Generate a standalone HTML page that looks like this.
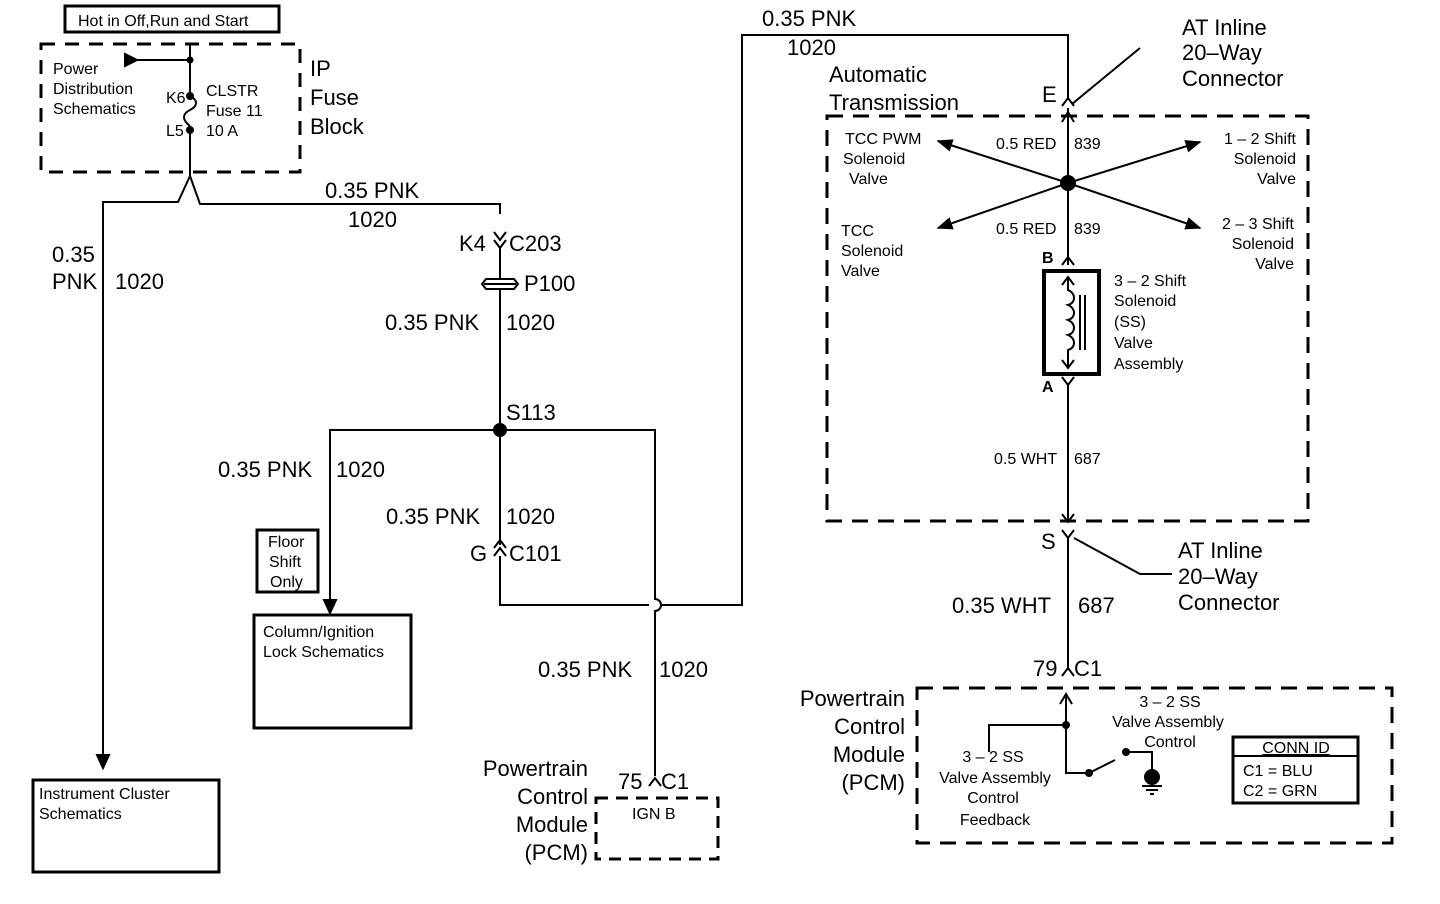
<!DOCTYPE html>
<html><head><meta charset="utf-8"><style>
html,body{margin:0;padding:0;background:#fff;}
svg{display:block;}
text{font-family:"Liberation Sans",Arial,sans-serif;fill:#000;}
.s{font-size:16px;}
.m{font-size:22px;}
.l{font-size:22px;}
</style></head><body>
<svg width="1440" height="904" viewBox="0 0 1440 904" xmlns="http://www.w3.org/2000/svg">
<defs>
<marker id="ar" viewBox="0 0 10 10" refX="9" refY="5" markerWidth="8" markerHeight="8" orient="auto"><path d="M0,1 L10,5 L0,9 Z" fill="#000"/></marker>
</defs>
<g stroke="#000" fill="none" stroke-width="2">
<rect x="65" y="6" width="214" height="26" stroke-width="3"/>
<rect x="41" y="44" width="259" height="128" stroke-width="3" stroke-dasharray="14,10"/>
<path d="M135,60 H190"/>
<path d="M125,54 L137,60 L125,66 Z" fill="#000"/>
<path d="M190,44 V96 M190,128 V172"/>
<path d="M190,96 c8,4 8,10 0,14 c-8,4 -8,10 0,16"/>
<circle cx="190" cy="60" r="2.5" fill="#000"/><circle cx="190" cy="96" r="3" fill="#000"/><circle cx="190" cy="130" r="3" fill="#000"/>
<path d="M190,172 V176 L178,202 H103 V762"/>
<path d="M190,176 L200,204 H500 V214"/>
<path d="M97,755 L103,768 L109,755 Z" fill="#000"/>
<path d="M494,232 L500,240 L506,232 M494,240 L500,248 L506,240"/>
<path d="M500,248 V278 M500,290 V545"/>
<path d="M484,284 H516 M486,279 H514 L518,284 L514,289 H486 L482,284 Z"/>
<circle cx="500" cy="430" r="6" fill="#000"/>
<path d="M500,430 H330 V606"/>
<path d="M324,600 L330,613 L336,600 Z" fill="#000"/>
<path d="M500,430 H655 V599 A6,6 0 0 1 655,611 V776"/>
<path d="M649,786 L655,778 L661,786"/>
<path d="M494,556 L500,548 L506,556 M494,548 L500,540 L506,548"/>
<path d="M500,556 V605 H649 M661,605 H742 V35 H1068 V98"/>
<path d="M1062,106 L1068,98 L1074,106"/>
<rect x="257" y="530" width="61" height="62" stroke-width="3"/>
<rect x="254" y="615" width="157" height="113" stroke-width="3"/>
<rect x="33" y="780" width="186" height="92" stroke-width="3"/>
<rect x="596" y="798" width="122" height="61" stroke-width="3" stroke-dasharray="12,8"/>
<rect x="827" y="116" width="481" height="405" stroke-width="3" stroke-dasharray="16,10"/>
<path d="M1068,108 V265"/>
<path d="M1062,122 L1068,112 L1074,122"/>
<circle cx="1068" cy="183" r="7" fill="#000"/>
<path d="M1068,183 L938,141" marker-end="url(#ar)"/>
<path d="M1068,183 L1200,142" marker-end="url(#ar)"/>
<path d="M1068,183 L938,228" marker-end="url(#ar)"/>
<path d="M1068,183 L1200,228" marker-end="url(#ar)"/>
<path d="M1062,265 L1068,257 L1074,265"/>
<rect x="1044" y="271" width="55" height="103" stroke-width="4"/>
<path d="M1068,277 V290 c8,3 8,13 0,15 c8,3 8,13 0,15 c8,3 8,13 0,15 c8,3 8,13 0,15 V368"/>
<path d="M1062,285 L1068,277 L1074,285 M1062,360 L1068,368 L1074,360"/>
<path d="M1080,295 V350 M1085,295 V350"/>
<path d="M1062,377 L1068,385 L1074,377 M1068,385 V520"/>
<path d="M1062,514 L1068,522 L1074,514"/>
<path d="M1062,530 L1068,538 L1074,530 M1068,538 V670"/>
<path d="M1062,676 L1068,668 L1074,676"/>
<path d="M1072,104 L1140,48 M1074,538 L1140,574 H1172"/>
<rect x="917" y="688" width="475" height="155" stroke-width="3" stroke-dasharray="16,10"/>
<path d="M1066,695 V773 H1089 L1115,760 M1066,725 H989 V752"/>
<path d="M1060,704 L1066,694 L1072,704"/>
<circle cx="1066" cy="725" r="3" fill="#000"/><circle cx="1089" cy="773" r="3" fill="#000"/><circle cx="1126" cy="752" r="3" fill="#000"/>
<path d="M1126,752 H1152 V770"/>
<circle cx="1152" cy="777" r="7" fill="#000"/>
<path d="M1142,786 H1162 M1146,790 H1158 M1150,794 H1154"/>
<rect x="1233" y="737" width="125" height="66" stroke-width="3"/>
<path d="M1233,756 H1358"/>
</g>
<text x="78" y="26" class="s">Hot in Off,Run and Start</text>
<text x="53" y="74" class="s">Power</text><text x="53" y="94" class="s">Distribution</text><text x="53" y="114" class="s">Schematics</text>
<text x="166" y="103" class="s">K6</text><text x="166" y="136" class="s">L5</text>
<text x="206" y="96" class="s">CLSTR</text><text x="206" y="116" class="s">Fuse 11</text><text x="206" y="136" class="s">10 A</text>
<text x="310" y="76" class="l">IP</text><text x="310" y="105" class="l">Fuse</text><text x="310" y="134" class="l">Block</text>
<text x="325" y="198" class="m">0.35 PNK</text><text x="348" y="227" class="m">1020</text>
<text x="52" y="262" class="m">0.35</text><text x="52" y="289" class="m">PNK</text><text x="115" y="289" class="m">1020</text>
<text x="459" y="251" class="m">K4</text><text x="509" y="251" class="m">C203</text>
<text x="524" y="291" class="m">P100</text>
<text x="385" y="330" class="m">0.35 PNK</text><text x="506" y="330" class="m">1020</text>
<text x="506" y="420" class="m">S113</text>
<text x="218" y="477" class="m">0.35 PNK</text><text x="336" y="477" class="m">1020</text>
<text x="386" y="524" class="m">0.35 PNK</text><text x="506" y="524" class="m">1020</text>
<text x="470" y="561" class="m">G</text><text x="509" y="561" class="m">C101</text>
<text x="268" y="547" class="s">Floor</text><text x="269" y="567" class="s">Shift</text><text x="270" y="587" class="s">Only</text>
<text x="263" y="637" class="s">Column/Ignition</text><text x="263" y="657" class="s">Lock Schematics</text>
<text x="39" y="799" class="s">Instrument Cluster</text><text x="39" y="819" class="s">Schematics</text>
<text x="538" y="677" class="m">0.35 PNK</text><text x="659" y="677" class="m">1020</text>
<text x="618" y="789" class="m">75</text><text x="661" y="789" class="m">C1</text>
<text x="588" y="776" class="m" text-anchor="end">Powertrain</text><text x="588" y="804" class="m" text-anchor="end">Control</text><text x="588" y="832" class="m" text-anchor="end">Module</text><text x="588" y="860" class="m" text-anchor="end">(PCM)</text>
<text x="632" y="819" class="s">IGN B</text>
<text x="762" y="26" class="m">0.35 PNK</text><text x="787" y="55" class="m">1020</text>
<text x="829" y="82" class="m">Automatic</text><text x="829" y="110" class="m">Transmission</text>
<text x="1042" y="102" class="m">E</text>
<text x="1182" y="35" class="m">AT Inline</text><text x="1182" y="60" class="m">20–Way</text><text x="1182" y="86" class="m">Connector</text>
<text x="845" y="144" class="s">TCC PWM</text><text x="843" y="164" class="s">Solenoid</text><text x="849" y="184" class="s">Valve</text>
<text x="996" y="149" class="s">0.5 RED</text><text x="1074" y="149" class="s">839</text>
<text x="996" y="234" class="s">0.5 RED</text><text x="1074" y="234" class="s">839</text>
<text x="1296" y="144" class="s" text-anchor="end">1 – 2 Shift</text><text x="1296" y="164" class="s" text-anchor="end">Solenoid</text><text x="1296" y="184" class="s" text-anchor="end">Valve</text>
<text x="1294" y="229" class="s" text-anchor="end">2 – 3 Shift</text><text x="1294" y="249" class="s" text-anchor="end">Solenoid</text><text x="1294" y="269" class="s" text-anchor="end">Valve</text>
<text x="841" y="236" class="s">TCC</text><text x="841" y="256" class="s">Solenoid</text><text x="841" y="276" class="s">Valve</text>
<text x="1042" y="263" class="s" font-weight="bold">B</text><text x="1042" y="392" class="s" font-weight="bold">A</text>
<text x="1114" y="286" class="s">3 – 2 Shift</text><text x="1114" y="306" class="s">Solenoid</text><text x="1114" y="327" class="s">(SS)</text><text x="1114" y="348" class="s">Valve</text><text x="1114" y="369" class="s">Assembly</text>
<text x="994" y="464" class="s">0.5 WHT</text><text x="1074" y="464" class="s">687</text>
<text x="1041" y="549" class="m">S</text>
<text x="1178" y="558" class="m">AT Inline</text><text x="1178" y="584" class="m">20–Way</text><text x="1178" y="610" class="m">Connector</text>
<text x="952" y="613" class="m">0.35 WHT</text><text x="1078" y="613" class="m">687</text>
<text x="1033" y="676" class="m">79</text><text x="1074" y="676" class="m">C1</text>
<text x="905" y="706" class="m" text-anchor="end">Powertrain</text><text x="905" y="734" class="m" text-anchor="end">Control</text><text x="905" y="762" class="m" text-anchor="end">Module</text><text x="905" y="790" class="m" text-anchor="end">(PCM)</text>
<text x="1170" y="707" class="s" text-anchor="middle">3 – 2 SS</text><text x="1168" y="727" class="s" text-anchor="middle">Valve Assembly</text><text x="1170" y="747" class="s" text-anchor="middle">Control</text>
<text x="993" y="762" class="s" text-anchor="middle">3 – 2 SS</text><text x="995" y="783" class="s" text-anchor="middle">Valve Assembly</text><text x="993" y="803" class="s" text-anchor="middle">Control</text><text x="995" y="825" class="s" text-anchor="middle">Feedback</text>
<text x="1296" y="753" class="s" text-anchor="middle" text-decoration="underline">CONN ID</text>
<text x="1243" y="776" class="s">C1 = BLU</text><text x="1243" y="796" class="s">C2 = GRN</text>
</svg>
</body></html>
